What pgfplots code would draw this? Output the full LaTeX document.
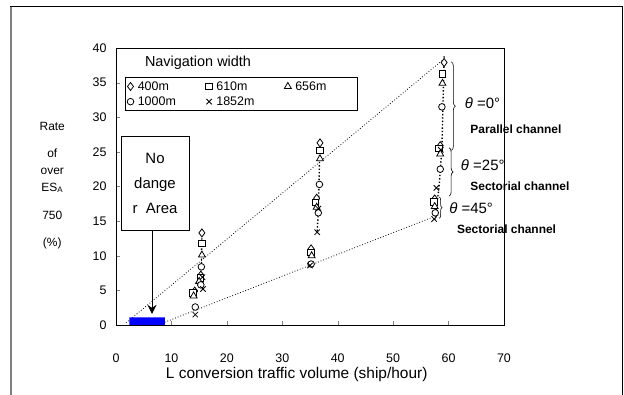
\documentclass[border=0pt]{standalone}
\usepackage{pgfplots}
\pgfplotsset{compat=1.18}
\usepackage{fontspec}
\setmainfont{Liberation Sans}
\usetikzlibrary{decorations.pathreplacing,arrows.meta}
\begin{document}
\begin{tikzpicture}
\useasboundingbox (0,0) rectangle (624bp,395bp);
\begin{axis}[
  at={(116bp,70bp)}, anchor=south west,
  scale only axis, width=388bp, height=277bp,
  xmin=0, xmax=70, ymin=0, ymax=40,
  xtick={0,10,...,70}, ytick={0,5,...,40},
  tick align=inside, tick pos=left,
  major tick length=4bp,
  axis line style={line width=0.6pt},
  /pgf/number format/assume math mode=true,
  tick label style={font=\fontsize{12.5}{14}\selectfont},
  xticklabel style={yshift=-25bp},
  yticklabel style={xshift=-6bp},
  clip=false,
  legend style={at={(0.023,0.895)}, anchor=north west, draw=black, line width=0.6pt,
    font=\fontsize{12.5}{14}\selectfont, legend columns=3, inner sep=2bp,
    row sep=1bp},
  legend cell align=left,
]
% trend lines
\addplot[dotted, line width=0.8pt, black, forget plot] coordinates {(1.8,0.3) (59.3,38.5)};
\addplot[dotted, line width=0.8pt, black, forget plot] coordinates {(8.8,0.4) (58.5,16)};
% vertical connecting dotted lines
\addplot[dotted, line width=1.4pt, forget plot] coordinates {(15.5,13.5) (15.4,8) (15.5,5.5)};
\addplot[dotted, line width=1.4pt, forget plot] coordinates {(36.8,26.5) (36.5,16.5) (36.3,13.4)};
\addplot[dotted, line width=1.4pt, forget plot] coordinates {(59.2,38.8) (58.8,25.5) (58.3,20) (57.5,15)};
% blue area
\addplot[fill=blue, draw=none, forget plot] coordinates {(2.4,0) (2.4,1.1) (8.8,1.1) (8.8,0)} \closedcycle;
% series
\addplot[only marks, mark=diamond*, mark size=4bp, mark options={fill=white, draw=black, line width=0.8pt}] coordinates {
(15.5,13.3) (15.3,7.2) (14.2,4.9)
(36.8,26.3) (36.2,18.3) (35.2,11.0)
(59.2,37.9) (58.5,25.9) (57.5,18.2)};
\addlegendentry{\makebox[68bp][l]{\hspace{2bp}400m}}
\addplot[only marks, mark=square*, mark size=3.3bp, mark options={fill=white, draw=black, line width=0.8pt}] coordinates {
(15.5,11.8) (15.2,6.8) (13.9,4.6)
(36.8,25.2) (36.0,17.7) (35.2,10.5)
(58.9,36.3) (58.3,25.5) (57.3,17.8)};
\addlegendentry{\makebox[68bp][l]{\hspace{2bp}610m}}
\addplot[only marks, mark=triangle*, mark size=4bp, mark options={fill=white, draw=black, line width=0.8pt}] coordinates {
(15.5,10.1) (15.0,6.3) (14.0,4.2)
(36.8,24.0) (36.2,17.0) (35.3,10.0)
(58.9,34.9) (58.5,24.7) (57.5,17.1)};
\addlegendentry{\makebox[60bp][l]{\hspace{2bp}656m}}
\addplot[only marks, mark=*, mark size=3.3bp, mark options={fill=white, draw=black, line width=0.8pt}] coordinates {
(15.4,8.4) (15.3,5.8) (14.3,2.6)
(36.7,20.3) (36.5,16.2) (35.2,8.8)
(58.8,31.5) (58.5,22.5) (57.6,16.2)};
\addlegendentry{\makebox[68bp][l]{\hspace{2bp}1000m}}
\addplot[only marks, mark=x, mark size=3.8bp, mark options={draw=black, line width=0.8pt}] coordinates {
(15.6,6.9) (15.7,5.2) (14.3,1.5)
(36.5,16.8) (36.3,13.4) (35.0,8.6)
(58.6,25.3) (57.8,19.8) (57.4,15.3)};
\addlegendentry{\makebox[68bp][l]{\hspace{2bp}1852m}}

% legend title
\node[anchor=west, font=\fontsize{14.5}{16}\selectfont] at (axis cs:4.6,37.8) {Navigation width};
% No danger area
\node[draw, line width=0.6pt, fill=white, minimum width=68bp, minimum height=94bp, align=center,
  font=\fontsize{15}{25}\selectfont] at (axis cs:7.04,20.5) {No\\dange\\r\ \ Area};
\draw[line width=0.6pt, -{Stealth[length=9bp,width=9bp]}] (axis cs:6.5,13.7) -- (axis cs:6.5,1.6);
% braces
\draw[decorate, decoration={brace, amplitude=4bp}, line width=0.6pt] (axis cs:60.5,38) -- (axis cs:60.5,25.2);
\draw[decorate, decoration={brace, amplitude=4bp}, line width=0.6pt] (axis cs:60.1,25.6) -- (axis cs:60.1,18.6);
\draw[decorate, decoration={brace, amplitude=3bp}, line width=0.6pt] (axis cs:58.3,18.5) -- (axis cs:58.3,15.4);
\node[anchor=west, font=\fontsize{15}{17}\selectfont, inner sep=0] at (axis cs:62.9,32.1) {\textit{θ} =0°};
\node[anchor=west, font=\bfseries\fontsize{12}{14}\selectfont, inner sep=0] at (axis cs:63.9,28.2) {Parallel channel};
\node[anchor=west, font=\fontsize{15}{17}\selectfont, inner sep=0] at (axis cs:62.2,23.1) {\textit{θ} =25°};
\node[anchor=west, font=\bfseries\fontsize{12}{14}\selectfont, inner sep=0] at (axis cs:63.9,20.1) {Sectorial channel};
\node[anchor=west, font=\fontsize{15}{17}\selectfont, inner sep=0] at (axis cs:60.1,16.9) {\textit{θ} =45°};
\node[anchor=west, font=\bfseries\fontsize{12}{14}\selectfont, inner sep=0] at (axis cs:61.5,13.9) {Sectorial channel};
% x label
\node[font=\fontsize{15.5}{18}\selectfont] at (axis cs:32.6,-7.2) {L conversion traffic volume (ship/hour)};
% y label
\begin{scope}[every node/.style={font=\fontsize{12}{14}\selectfont}]
\node at (axis cs:-11.5,28.7) {Rate};
\node at (axis cs:-11.5,24.8) {of};
\node at (axis cs:-11.5,22.2) {over};
\node at (axis cs:-11.5,19.8) {ES\textsubscript{A}};
\node at (axis cs:-11.5,15.9) {750};
\node at (axis cs:-11.5,11.8) {(\%)};
\end{scope}
\end{axis}
% outer frame
\draw[gray, line width=2bp] (11bp,0) -- (11bp,388bp);
\draw[black, line width=1bp] (10bp,388bp) -- (622bp,388bp) -- (622bp,0);
\end{tikzpicture}
\end{document}
